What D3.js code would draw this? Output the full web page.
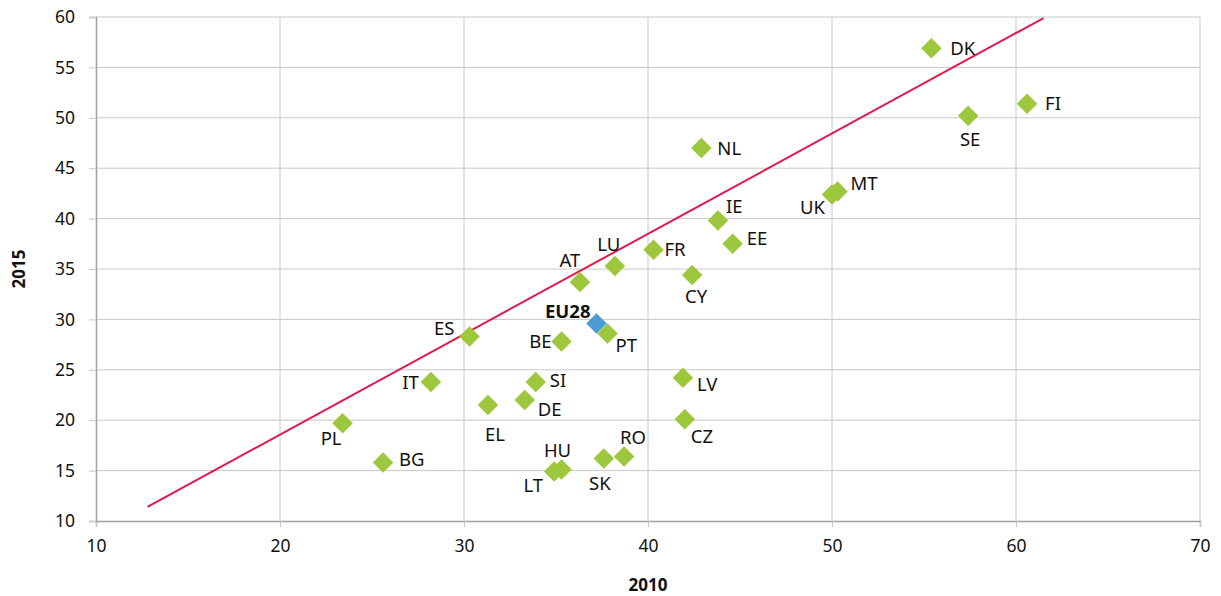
<!DOCTYPE html>
<html><head><meta charset="utf-8">
<script src="https://cdn.jsdelivr.net/npm/d3@7/dist/d3.min.js"></script>
<style>body{margin:0;background:#fff}svg{display:block}text{font-family:"Noto Sans",sans-serif;fill:#111}</style>
</head><body><svg id="c" width="1221" height="596"></svg>
<script>
const countries = ["DK","FI","SE","NL","MT","UK","IE","EE","FR","LU","CY","AT","EU28","PT","ES","BE","LV","IT","SI","DE","EL","CZ","PL","BG","RO","SK","HU","LT"];
const values2010 = [55.4,60.6,57.4,42.9,50.3,50.0,43.8,44.6,40.3,38.2,42.4,36.3,37.2,37.8,30.3,35.3,41.9,28.2,33.9,33.3,31.3,42.0,23.4,25.6,38.7,37.6,35.3,34.9];
const values2015 = [56.9,51.4,50.2,47.0,42.7,42.4,39.8,37.5,36.9,35.3,34.4,33.7,29.6,28.6,28.3,27.8,24.2,23.8,23.8,22.0,21.5,20.1,19.7,15.8,16.4,16.2,15.1,14.9];
const xTicks = [10,20,30,40,50,60,70];
const yTicks = [10,15,20,25,30,35,40,45,50,55,60];
const trendX = [12.8, 61.5];
const trendY = [11.4, 59.9];

// label offsets (layout)
const labelOffsets = {
  DK:[19,0,"start"], FI:[18,0,"start"], SE:[2,24,"middle"], NL:[16,0,"start"],
  MT:[13,-8,"start"], UK:[-7,13,"end"], IE:[8,-14,"start"], EE:[14,-5,"start"],
  FR:[11,0,"start"], LU:[-6,-21,"middle"], CY:[4,21,"middle"], AT:[-10,-22,"middle"],
  EU28:[-6,-12,"end"], PT:[8,12,"start"], ES:[-15,-8,"end"], BE:[-10,0,"end"],
  LV:[14,7,"start"], IT:[-12,1,"end"], SI:[14,-1,"start"], DE:[13,9,"start"],
  EL:[7,29,"middle"], CZ:[6,17,"start"], PL:[-1,15,"end"], BG:[16,-3,"start"],
  RO:[9,-19,"middle"], SK:[-4,25,"middle"], HU:[-4,-19,"middle"], LT:[-11,14,"end"]
};

const svg = d3.select("#c");
const L=96, R=1200, T=17, B=521;
const x = d3.scaleLinear().domain([10,70]).range([L,R]);
const y = d3.scaleLinear().domain([10,60]).range([B,T]);

// gridlines
svg.append("g").selectAll("line").data(yTicks.slice(1)).join("line")
  .attr("x1",L).attr("x2",R).attr("y1",d=>y(d)).attr("y2",d=>y(d))
  .attr("stroke","#c8c8c8").attr("stroke-width",1);
svg.append("g").selectAll("line").data(xTicks.slice(1)).join("line")
  .attr("y1",T).attr("y2",B).attr("x1",d=>x(d)).attr("x2",d=>x(d))
  .attr("stroke","#c8c8c8").attr("stroke-width",1);

// axes
const xAxis = svg.append("g").attr("transform",`translate(0,${B})`)
  .call(d3.axisBottom(x).tickValues(xTicks).tickSize(6).tickPadding(13));
const yAxis = svg.append("g").attr("transform",`translate(${L},0)`)
  .call(d3.axisLeft(y).tickValues(yTicks).tickSize(7).tickPadding(14));
[xAxis,yAxis].forEach(a=>{
  a.select(".domain").attr("stroke","#a0a0a0").attr("stroke-width",1.5);
  a.selectAll(".tick line").attr("stroke","#c8c8c8");
  a.selectAll(".tick text").attr("font-size",17.5).style("fill","#111").attr("font-family","Noto Sans");
});

// trend line
svg.append("line").attr("x1",x(trendX[0])).attr("y1",y(trendY[0]))
  .attr("x2",x(trendX[1])).attr("y2",y(trendY[1]))
  .attr("stroke","#e1194b").attr("stroke-width",2);

const data = countries.map((c,i)=>({c, a:values2010[i], b:values2015[i]}));
const diamond = d3.symbol().type(d3.symbolSquare).size(210);
svg.append("g").selectAll("path").data(data).join("path")
  .attr("d",diamond)
  .attr("transform",d=>`translate(${x(d.a)},${y(d.b)}) rotate(45)`)
  .attr("fill",d=>d.c==="EU28"?"#4a9bd3":"#9dc73d");

svg.append("g").selectAll("text").data(data).join("text")
  .attr("x",d=>x(d.a)+labelOffsets[d.c][0])
  .attr("y",d=>y(d.b)+labelOffsets[d.c][1])
  .attr("dy","0.35em")
  .attr("text-anchor",d=>labelOffsets[d.c][2])
  .attr("font-size",18.5)
  .attr("font-weight",d=>d.c==="EU28"?"bold":"normal")
  .text(d=>d.c);

svg.append("text").attr("x",648).attr("y",591).attr("text-anchor","middle")
  .attr("font-size",17).attr("font-weight","bold").text("2010");
svg.append("text").attr("transform",`translate(25,${(T+B)/2}) rotate(-90)`)
  .attr("text-anchor","middle").attr("font-size",17).attr("font-weight","bold").text("2015");
</script></body></html>
